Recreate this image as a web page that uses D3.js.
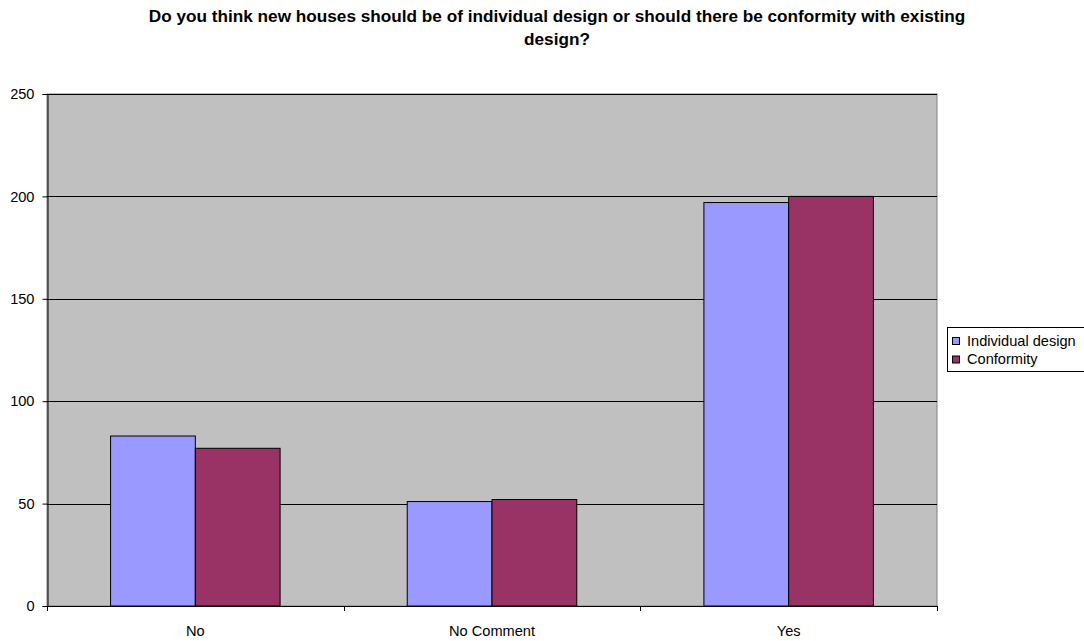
<!DOCTYPE html>
<html><head><meta charset="utf-8">
<script src="https://cdn.jsdelivr.net/npm/d3@7"></script>
<style>body{margin:0;background:#fff}</style>
</head><body><svg id="c" width="1084" height="641"></svg>
<script>
const categories = ["No", "No Comment", "Yes"];
const seriesNames = ["Individual design", "Conformity"];
const individualDesign = [83, 51, 197];
const conformity = [77, 52, 200];
const yTicks = [0, 50, 100, 150, 200, 250];
const colors = ["#9999FF", "#993366"];
const titleLines = ["Do you think new houses should be of individual design or should there be conformity with existing", "design?"];

const svg = d3.select("#c");
const font = "Liberation Sans, Arial, sans-serif";
const fs = 14.6;
const m = {l: 47, r: 937, t: 94, b: 606};
const x = d3.scaleBand().domain(categories).range([m.l, m.r]).paddingInner(0).paddingOuter(0);
const y = d3.scaleLinear().domain([0, 250]).range([m.b, m.t]);
const inner = d3.scaleBand().domain(seriesNames).range([0, x.bandwidth()]).paddingInner(0).paddingOuter(0.75);

svg.append("rect").attr("x", m.l).attr("y", m.t).attr("width", m.r - m.l).attr("height", m.b - m.t)
  .attr("fill", "#C0C0C0").attr("stroke", "#808080").attr("stroke-width", 1);

svg.append("g").selectAll("line").data(yTicks.slice(1)).join("line")
  .attr("x1", m.l).attr("x2", m.r).attr("y1", d => Math.round(y(d)) + 0.5).attr("y2", d => Math.round(y(d)) + 0.5)
  .attr("stroke", "#000").attr("stroke-width", 1);

const data = [individualDesign, conformity];
seriesNames.forEach((s, si) => {
  svg.append("g").selectAll("rect").data(categories).join("rect")
    .attr("x", d => x(d) + inner(s))
    .attr("y", (d, i) => y(data[si][i]))
    .attr("width", inner.bandwidth())
    .attr("height", (d, i) => y(0) - y(data[si][i]))
    .attr("fill", colors[si]).attr("stroke", "#000").attr("stroke-width", 1);
});

// y axis
const ya = svg.append("g").attr("transform", `translate(${m.l + 0.5},0)`)
  .call(d3.axisLeft(y).tickValues(yTicks).tickSize(5).tickPadding(8));
ya.select(".domain").attr("stroke", "#000");
ya.selectAll("text").attr("font-family", font).attr("font-size", fs).attr("fill", "#000");

// x axis
svg.append("line").attr("x1", m.l).attr("x2", m.r).attr("y1", m.b + 0.5).attr("y2", m.b + 0.5).attr("stroke", "#000");
const bounds = categories.map(c => x(c)).concat([m.r]);
svg.append("g").selectAll("line").data(bounds).join("line")
  .attr("x1", d => Math.round(d) + 0.5).attr("x2", d => Math.round(d) + 0.5)
  .attr("y1", m.b).attr("y2", m.b + 5).attr("stroke", "#000");
svg.append("g").selectAll("text").data(categories).join("text")
  .attr("x", d => x(d) + x.bandwidth() / 2).attr("y", 636)
  .attr("text-anchor", "middle").attr("font-family", font).attr("font-size", fs).text(d => d);

// title
svg.append("g").selectAll("text").data(titleLines).join("text")
  .attr("x", 557).attr("y", (d, i) => 22 + i * 23)
  .attr("text-anchor", "middle").attr("font-family", font).attr("font-size", 17.2).attr("font-weight", "bold")
  .text(d => d);

// legend
const lg = svg.append("g");
lg.append("rect").attr("x", 947.5).attr("y", 327.5).attr("width", 140).attr("height", 44)
  .attr("fill", "#fff").attr("stroke", "#000");
seriesNames.forEach((s, i) => {
  lg.append("rect").attr("x", 952.5).attr("y", 337.5 + i * 18.5).attr("width", 7).attr("height", 7)
    .attr("fill", colors[i]).attr("stroke", "#000");
  lg.append("text").attr("x", 967).attr("y", 345.5 + i * 18).attr("font-family", font).attr("font-size", fs).text(s);
});
</script></body></html>
